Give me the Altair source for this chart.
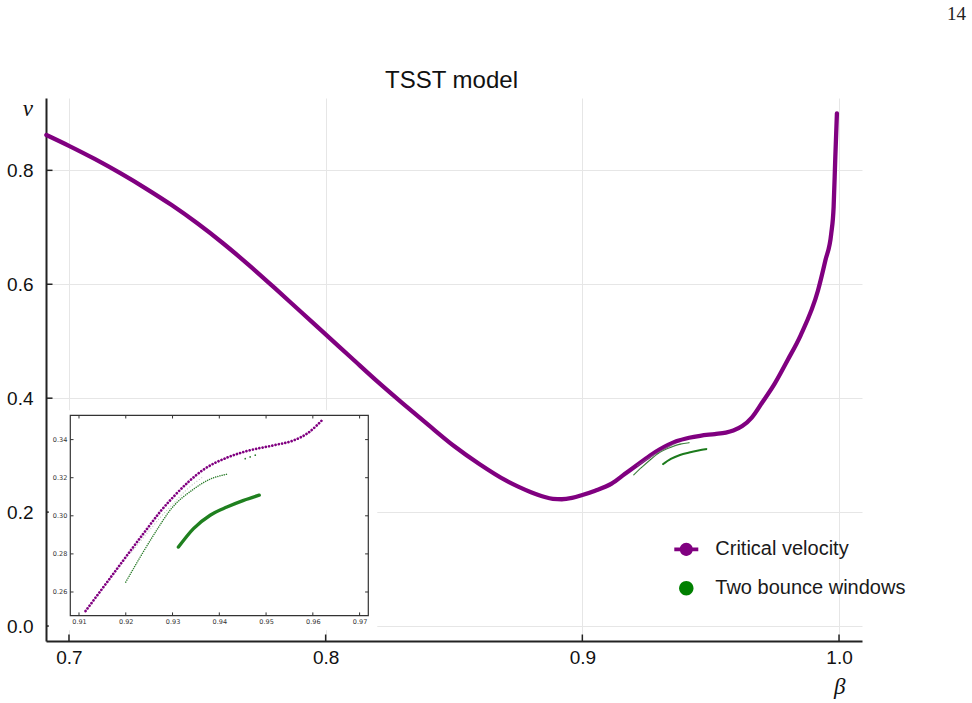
import altair as alt
import pandas as pd

# ---- critical velocity v_c(beta) ----
beta_cv = [0.6912, 0.700, 0.710, 0.720, 0.730, 0.740, 0.750, 0.760, 0.770, 0.780,
           0.790, 0.800, 0.810, 0.820, 0.830, 0.840, 0.850, 0.860, 0.870, 0.875,
           0.880, 0.885, 0.8885, 0.892, 0.896, 0.900, 0.905, 0.9114, 0.9165, 0.9216,
           0.9248, 0.9273, 0.9302, 0.9334, 0.9366, 0.9416, 0.9459, 0.9516, 0.9559, 0.9588,
           0.9623, 0.966, 0.970, 0.975, 0.980, 0.985, 0.9918, 0.9947, 0.99697, 0.9979,
           0.99856, 0.99918]
v_cv = [0.862, 0.843, 0.820, 0.795, 0.768, 0.739, 0.707, 0.672, 0.634, 0.594,
        0.553, 0.512, 0.471, 0.430, 0.391, 0.353, 0.316, 0.284, 0.256, 0.2448,
        0.2350, 0.2270, 0.2234, 0.2226, 0.2250, 0.2300, 0.2375, 0.250, 0.2668, 0.2836,
        0.2940, 0.3020, 0.3100, 0.3178, 0.3242, 0.3305, 0.3340, 0.3370, 0.3396, 0.3432,
        0.3510, 0.366, 0.392, 0.426, 0.467, 0.510, 0.589, 0.642, 0.689, 0.736,
        0.824, 0.900]

# ---- two-bounce windows ----
beta_w1 = [0.9200, 0.9231, 0.9266, 0.9295, 0.9345, 0.9381, 0.9416]
v_w1 = [0.2652, 0.2784, 0.2924, 0.3030, 0.3140, 0.3193, 0.3218]
beta_w2 = [0.93126, 0.93448, 0.93805, 0.94163, 0.94520, 0.94854]
v_w2 = [0.2836, 0.2933, 0.3003, 0.3046, 0.3081, 0.3108]
# faint window hugging the critical curve, and a few isolated window points
beta_w3 = [0.92128, 0.9245, 0.92734, 0.9302, 0.93306, 0.93627]
v_w3 = [0.2810, 0.2907, 0.2990, 0.3065, 0.3138, 0.3200]
beta_w4 = [0.94555, 0.9466, 0.94769]
v_w4 = [0.3300, 0.3309, 0.3318]

series_names = ["Critical velocity", "Two bounce windows"]
series_colors = ["#800080", "#008000"]

main_x_ticks = [0.7, 0.8, 0.9, 1.0]
main_y_ticks = [0.0, 0.2, 0.4, 0.6, 0.8]
inset_x_ticks = [0.91, 0.92, 0.93, 0.94, 0.95, 0.96, 0.97]
inset_y_ticks = [0.26, 0.28, 0.30, 0.32, 0.34]

title_text = "TSST model"
page_text = "14"

# ---- layout ----
W, H = 816, 543
PAD = {"left": 46, "top": 98, "right": 972 - 46 - W, "bottom": 703 - 98 - H}

x_main = alt.Scale(domain=[0.69105, 1.00895], nice=False, zero=False)
y_main = alt.Scale(domain=[-0.0263, 0.927], nice=False, zero=False)

# inset occupies a sub-rectangle of the plot area
xi_dom, xi_rng = [0.90814, 0.97186], [24.3, 322.3]
yi_dom, yi_rng = [0.24761, 0.35276], [517.6, 317.3]
x_in = alt.Scale(domain=xi_dom, range=xi_rng, nice=False, zero=False)
y_in = alt.Scale(domain=yi_dom, range=yi_rng, nice=False, zero=False)
xpp = (xi_dom[1] - xi_dom[0]) / (xi_rng[1] - xi_rng[0])
ypp = (yi_dom[1] - yi_dom[0]) / (yi_rng[0] - yi_rng[1])

LBL = "Liberation Sans"
SERIF = "Liberation Serif"

ax_x = alt.Axis(values=main_x_ticks, format=".1f", grid=True, gridColor="#e6e6e6",
                gridWidth=1, ticks=False, domainColor="#222222", domainWidth=2,
                labelFont=LBL, labelFontSize=19, labelColor="#111111", labelPadding=7,
                title="β", titleX=793.3, titleY=45.3, titleFont=SERIF,
                titleFontStyle="italic", titleFontWeight="normal", titleFontSize=23,
                titleColor="#111111", titleAlign="center", titleBaseline="middle")
ax_y = alt.Axis(values=main_y_ticks, format=".1f", grid=True, gridColor="#e6e6e6",
                gridWidth=1, ticks=False, domainColor="#222222", domainWidth=2,
                labelFont=LBL, labelFontSize=19, labelColor="#111111", labelPadding=13,
                title="v", titleAngle=0, titleX=-18.7, titleY=10.3, titleFont=SERIF,
                titleFontStyle="italic", titleFontWeight="normal", titleFontSize=23,
                titleColor="#111111", titleAlign="center", titleBaseline="middle")

ax_xi = alt.Axis(orient="bottom", offset=-(H - yi_rng[0]), values=inset_x_ticks,
                 format=".2f", grid=False, ticks=False, domain=False, labelFont="DejaVu Sans",
                 labelFontSize=6.5, labelColor="#333333", labelPadding=2.5, zindex=1,
                 labelFlush=False, title=None)
ax_yi = alt.Axis(orient="left", offset=-xi_rng[0], values=inset_y_ticks,
                 format=".2f", grid=False, ticks=False, domain=False, labelFont="DejaVu Sans",
                 labelFontSize=6.5, labelColor="#333333", labelPadding=3.5, zindex=1,
                 title=None)

cv = pd.DataFrame({"b": beta_cv, "v": v_cv})
w1 = pd.DataFrame({"b": beta_w1, "v": v_w1})
w2 = pd.DataFrame({"b": beta_w2, "v": v_w2})
w3 = pd.DataFrame({"b": beta_w3, "v": v_w3})
w4 = pd.DataFrame({"b": beta_w4, "v": v_w4})

XM = alt.X("b:Q", scale=x_main, axis=ax_x)
YM = alt.Y("v:Q", scale=y_main, axis=ax_y)
XI = alt.X("b:Q", scale=x_in, axis=ax_xi)
YI = alt.Y("v:Q", scale=y_in, axis=ax_yi)

# ---- main panel ----
main_cv = alt.Chart(cv).mark_line(color=series_colors[0], strokeWidth=4.3, strokeCap="round",
                                  strokeJoin="round", interpolate="monotone").encode(x=XM, y=YM)
main_w3 = alt.Chart(w3).mark_line(color="#8a9a8a", strokeWidth=0.8, opacity=0.6,
                                  interpolate="monotone").encode(x=XM, y=YM)
main_w1 = alt.Chart(w1).mark_line(color="#3f7f3f", strokeWidth=1.1,
                                  interpolate="monotone").encode(x=XM, y=YM)
main_w2 = alt.Chart(w2).mark_line(color="#1d7a1d", strokeWidth=2.0,
                                  interpolate="monotone").encode(x=XM, y=YM)

# legend entries come from the sampled points of each series
legend_pts = pd.concat([
    cv.assign(series=series_names[0]),
    w1.assign(series=series_names[1]),
    w2.assign(series=series_names[1]),
], ignore_index=True)

sym_cv = ("M-1,-0.16H1V0.16H-1Z "
          "M0.55,0A0.55,0.55,0,1,1,-0.55,0A0.55,0.55,0,1,1,0.55,0Z")
sym_w = "M0.6,0A0.6,0.6,0,1,1,-0.6,0A0.6,0.6,0,1,1,0.6,0Z"

leg = alt.Legend(title=None, orient="none", legendX=628.3, legendY=439.3, padding=0,
                 symbolSize=576, symbolStrokeWidth=0, labelFont=LBL, labelFontSize=20,
                 labelColor="#1a1a1a", labelOffset=17, rowPadding=17, labelLimit=400)
main_pts = alt.Chart(legend_pts).mark_point(filled=True, opacity=1, size=2).encode(
    x=XM, y=YM,
    color=alt.Color("series:N", title=None, legend=leg,
                    scale=alt.Scale(domain=series_names, range=series_colors)),
    shape=alt.Shape("series:N", title=None, legend=leg,
                    scale=alt.Scale(domain=series_names, range=[sym_cv, sym_w])),
)

# inward tick marks on the main axes
xt = alt.Chart(pd.DataFrame({"b": main_x_ticks})).mark_rule(color="#222222", strokeWidth=1.5).encode(
    x=XM, y=alt.value(H), y2=alt.value(H - 6.5))
yt = alt.Chart(pd.DataFrame({"v": main_y_ticks})).mark_rule(color="#222222", strokeWidth=1.5).encode(
    y=YM, x=alt.value(0), x2=alt.value(6.5))

title_mark = alt.Chart(pd.DataFrame({"t": [title_text]})).mark_text(
    font=LBL, fontSize=24, color="#111111", align="center", baseline="alphabetic").encode(
    text="t:N", x=alt.value(W / 2 - 2.5), y=alt.value(-10))
page_mark = alt.Chart(pd.DataFrame({"t": [page_text]})).mark_text(
    font=SERIF, fontSize=19, color="#222222", align="center", baseline="middle").encode(
    text="t:N", x=alt.value(910.5), y=alt.value(-84.5))

main = alt.layer(main_cv, main_w3, main_w1, main_w2, main_pts, xt, yt, title_mark, page_mark)

# ---- inset panel ----
bg = pd.DataFrame({"b": [xi_dom[0] - 21.5 * xpp], "b2": [xi_dom[1] + 9 * xpp],
                   "v": [yi_dom[0] - 14.7 * ypp], "v2": [yi_dom[1] + 5 * ypp]})
frame = pd.DataFrame({"b": [xi_dom[0]], "b2": [xi_dom[1]], "v": [yi_dom[0]], "v2": [yi_dom[1]]})

in_bg = alt.Chart(bg).mark_rect(fill="white", strokeWidth=0).encode(
    x=XI, x2="b2:Q", y=YI, y2="v2:Q")
in_frame = alt.Chart(frame).mark_rect(fillOpacity=0, stroke="#333333", strokeWidth=1.2).encode(
    x=XI, x2="b2:Q", y=YI, y2="v2:Q")

tl = 3.2
tick_rows = (
    [{"b": t, "b2": t, "v": yi_dom[0], "v2": yi_dom[0] + tl * ypp} for t in inset_x_ticks] +
    [{"b": t, "b2": t, "v": yi_dom[1], "v2": yi_dom[1] - tl * ypp} for t in inset_x_ticks] +
    [{"b": xi_dom[0], "b2": xi_dom[0] + tl * xpp, "v": t, "v2": t} for t in inset_y_ticks] +
    [{"b": xi_dom[1], "b2": xi_dom[1] - tl * xpp, "v": t, "v2": t} for t in inset_y_ticks]
)
in_ticks = alt.Chart(pd.DataFrame(tick_rows)).mark_rule(color="#333333", strokeWidth=1).encode(
    x=XI, x2="b2:Q", y=YI, y2="v2:Q")

in_w3 = alt.Chart(w3).mark_line(color="#9aa79a", strokeWidth=1.1, strokeDash=[0.01, 3.0],
                                strokeCap="round", opacity=0.7,
                                interpolate="monotone").encode(x=XI, y=YI)
in_w1 = alt.Chart(w1).mark_line(color="#2f7f2f", strokeWidth=1.5, strokeDash=[0.01, 2.2],
                                strokeCap="round", interpolate="monotone").encode(x=XI, y=YI)
in_w2 = alt.Chart(w2).mark_line(color="#1f801f", strokeWidth=3.4, strokeCap="round",
                                interpolate="monotone").encode(x=XI, y=YI)
in_w4 = alt.Chart(w4).mark_point(filled=True, opacity=1, size=3, color="#2f7f2f").encode(x=XI, y=YI)
in_cv = alt.Chart(cv).transform_filter(
    (alt.datum.b >= 0.911) & (alt.datum.b <= 0.9625)
).mark_line(color=series_colors[0], strokeWidth=2.7, strokeDash=[0.01, 3.3], strokeCap="round",
            interpolate="monotone").encode(x=XI, y=YI)

inset = alt.layer(in_bg, in_frame, in_w3, in_w1, in_w2, in_w4, in_cv, in_ticks)

chart = alt.layer(main, inset).resolve_scale(
    x="independent", y="independent"
).properties(
    width=W, height=H, padding=PAD, autosize=alt.AutoSizeParams(type="none"),
    background="white"
).configure_view(strokeWidth=0)

chart.save("out.html", embed_options={"renderer": "svg", "actions": False})
